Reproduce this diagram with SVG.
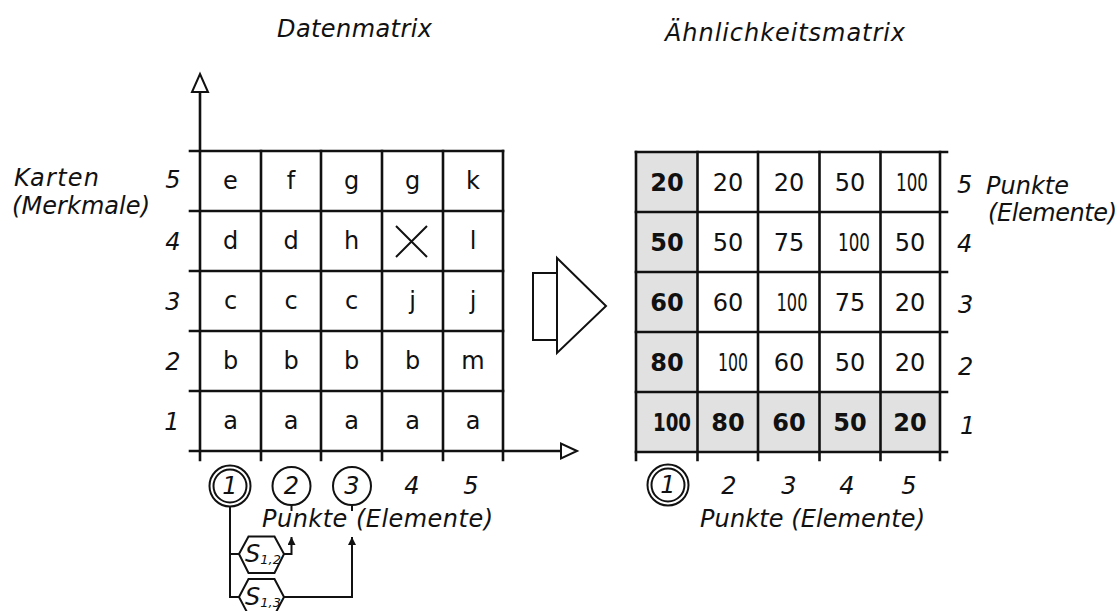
<svg xmlns="http://www.w3.org/2000/svg" width="1120" height="611" viewBox="0 0 1120 611">
  <style>
    .ln { stroke: #111; stroke-width: 2.6; fill: none; stroke-linecap: square; }
    .thin { stroke: #111; stroke-width: 2; fill: none; }
    .open { stroke: #111; stroke-width: 2; fill: #fff; stroke-linejoin: miter; }
    .lbl { font-family: "DejaVu Sans", "Liberation Sans", sans-serif; font-style: italic; font-size: 24px; fill: #111; }
    .cell { font-family: "DejaVu Sans", "Liberation Sans", sans-serif; font-size: 24px; fill: #111; text-anchor: middle; }
    .num { font-family: "DejaVu Sans", "Liberation Sans", sans-serif; font-size: 24px; fill: #111; text-anchor: middle; }
    .bold { font-weight: bold; }
    .mid { text-anchor: middle; }
    .shade { fill: #e1e1e1; }
  </style>
  <defs>
    <marker id="tip" viewBox="0 0 10 10" refX="10" refY="5" markerWidth="8" markerHeight="8" markerUnits="userSpaceOnUse" orient="auto">
      <path d="M0,0 L10,5 L0,10 Z" fill="#111"/>
    </marker>
  </defs>

  <!-- titles -->
  <g id="titles">
    <text class="lbl" x="277" y="37" textLength="155">Datenmatrix</text>
    <text class="lbl" x="665" y="41" textLength="240">Ähnlichkeitsmatrix</text>
  </g>

  <!-- data matrix with axes -->
  <g id="data-matrix">
    <!-- vertical axis with open arrowhead -->
    <line class="ln" x1="200" y1="92" x2="200" y2="460"/>
    <path class="open" d="M200,74 L208,92 L192,92 Z"/>
    <!-- horizontal axis with open arrowhead -->
    <line class="ln" x1="190" y1="451" x2="561" y2="451"/>
    <path class="open" d="M577,451 L561,443.5 L561,458.5 Z"/>
    <!-- grid rows -->
    <line class="ln" x1="190" y1="151" x2="503" y2="151"/>
    <line class="ln" x1="190" y1="211" x2="503" y2="211"/>
    <line class="ln" x1="190" y1="271" x2="503" y2="271"/>
    <line class="ln" x1="190" y1="331" x2="503" y2="331"/>
    <line class="ln" x1="190" y1="391" x2="503" y2="391"/>
    <!-- grid columns -->
    <line class="ln" x1="261" y1="151" x2="261" y2="460"/>
    <line class="ln" x1="321" y1="151" x2="321" y2="460"/>
    <line class="ln" x1="382" y1="151" x2="382" y2="460"/>
    <line class="ln" x1="443" y1="151" x2="443" y2="460"/>
    <line class="ln" x1="503" y1="151" x2="503" y2="460"/>
    <!-- cell entries -->
    <text class="cell" x="230.5" y="189">e</text>
    <text class="cell" x="291" y="189">f</text>
    <text class="cell" x="351.5" y="189">g</text>
    <text class="cell" x="412.5" y="189">g</text>
    <text class="cell" x="473" y="189">k</text>
    <text class="cell" x="230.5" y="249">d</text>
    <text class="cell" x="291" y="249">d</text>
    <text class="cell" x="351.5" y="249">h</text>
    <path class="thin" d="M396,226 L427,257 M427,226 L396,257"/>
    <text class="cell" x="473" y="249">l</text>
    <text class="cell" x="230.5" y="309">c</text>
    <text class="cell" x="291" y="309">c</text>
    <text class="cell" x="351.5" y="309">c</text>
    <text class="cell" x="412.5" y="309">j</text>
    <text class="cell" x="473" y="309">j</text>
    <text class="cell" x="230.5" y="369">b</text>
    <text class="cell" x="291" y="369">b</text>
    <text class="cell" x="351.5" y="369">b</text>
    <text class="cell" x="412.5" y="369">b</text>
    <text class="cell" x="473" y="369">m</text>
    <text class="cell" x="230.5" y="429">a</text>
    <text class="cell" x="291" y="429">a</text>
    <text class="cell" x="351.5" y="429">a</text>
    <text class="cell" x="412.5" y="429">a</text>
    <text class="cell" x="473" y="429">a</text>
  </g>

  <!-- row labels of the data matrix -->
  <g id="data-rows">
    <text class="lbl" x="14" y="186" font-size="23" textLength="85">Karten</text>
    <text class="lbl" x="12" y="214" font-size="23" textLength="138">(Merkmale)</text>
    <text class="lbl mid" x="173" y="188">5</text>
    <text class="lbl mid" x="173" y="250">4</text>
    <text class="lbl mid" x="173" y="310">3</text>
    <text class="lbl mid" x="173" y="370">2</text>
    <text class="lbl mid" x="172" y="430">1</text>
  </g>

  <!-- column labels of the data matrix -->
  <g id="data-cols">
    <circle class="thin" cx="230" cy="486" r="20.5"/>
    <circle class="thin" cx="230" cy="486" r="16.5"/>
    <text class="lbl mid" x="230" y="494">1</text>
    <circle class="thin" cx="291.5" cy="486" r="19"/>
    <text class="lbl mid" x="291.5" y="494">2</text>
    <circle class="thin" cx="352" cy="486" r="19"/>
    <text class="lbl mid" x="352" y="494">3</text>
    <text class="lbl mid" x="412" y="494">4</text>
    <text class="lbl mid" x="471" y="494">5</text>
    <text class="lbl" x="262" y="527" textLength="231">Punkte (Elemente)</text>
  </g>

  <!-- similarity coefficients -->
  <g id="s12">
    <path class="thin" d="M239,554 L248.5,536.5 L274.5,536.5 L284,554 L274.5,573 L248.5,573 Z"/>
    <text class="lbl" x="245" y="562" font-size="21">S<tspan font-size="13" dy="2">1,2</tspan></text>
  </g>
  <g id="s13">
    <path class="thin" d="M239,597 L248.5,579 L274.5,579 L284,597 L274.5,615 L248.5,615 Z"/>
    <text class="lbl" x="245" y="605" font-size="21">S<tspan font-size="13" dy="2">1,3</tspan></text>
  </g>

  <!-- connectors -->
  <g id="connectors">
    <line class="thin" x1="291.5" y1="505" x2="291.5" y2="511"/>
    <line class="thin" x1="352" y1="505" x2="352" y2="511"/>
    <path class="thin" d="M230,506.5 L230,597 L239,597"/>
    <path class="thin" d="M230,554 L239,554"/>
    <path class="thin" d="M284,554 L291.5,554 L291.5,537" marker-end="url(#tip)"/>
    <path class="thin" d="M284,597 L352,597 L352,537" marker-end="url(#tip)"/>
  </g>

  <!-- transformation arrow -->
  <g id="transform-arrow">
    <rect class="open" x="533" y="273" width="24" height="67"/>
    <path class="open" d="M557,258 L606,306 L557,353 Z"/>
  </g>

  <!-- similarity matrix -->
  <g id="similarity-matrix">
    <rect class="shade" x="636" y="152" width="61.5" height="300"/>
    <rect class="shade" x="636" y="392" width="304" height="60"/>
    <line class="ln" x1="636" y1="152" x2="947" y2="152"/>
    <line class="ln" x1="636" y1="212" x2="947" y2="212"/>
    <line class="ln" x1="636" y1="272" x2="947" y2="272"/>
    <line class="ln" x1="636" y1="332" x2="947" y2="332"/>
    <line class="ln" x1="636" y1="392" x2="947" y2="392"/>
    <line class="ln" x1="636" y1="452" x2="947" y2="452"/>
    <line class="ln" x1="636" y1="152" x2="636" y2="460"/>
    <line class="ln" x1="697.5" y1="152" x2="697.5" y2="460"/>
    <line class="ln" x1="758" y1="152" x2="758" y2="460"/>
    <line class="ln" x1="819.5" y1="152" x2="819.5" y2="460"/>
    <line class="ln" x1="880.5" y1="152" x2="880.5" y2="460"/>
    <line class="ln" x1="940" y1="152" x2="940" y2="460"/>
    <!-- row 5 -->
    <text class="num bold" x="667" y="191">20</text>
    <text class="num" x="728" y="191">20</text>
    <text class="num" x="789" y="191">20</text>
    <text class="num" x="850" y="191">50</text>
    <text class="num" x="912" y="191" textLength="32" lengthAdjust="spacingAndGlyphs">100</text>
    <!-- row 4 -->
    <text class="num bold" x="667" y="251">50</text>
    <text class="num" x="728" y="251">50</text>
    <text class="num" x="789" y="251">75</text>
    <text class="num" x="854" y="251" textLength="32" lengthAdjust="spacingAndGlyphs">100</text>
    <text class="num" x="910" y="251">50</text>
    <!-- row 3 -->
    <text class="num bold" x="667" y="311">60</text>
    <text class="num" x="728" y="311">60</text>
    <text class="num" x="792" y="311" textLength="31" lengthAdjust="spacingAndGlyphs">100</text>
    <text class="num" x="850" y="311">75</text>
    <text class="num" x="910" y="311">20</text>
    <!-- row 2 -->
    <text class="num bold" x="667" y="371">80</text>
    <text class="num" x="733" y="371" textLength="30" lengthAdjust="spacingAndGlyphs">100</text>
    <text class="num" x="789" y="371">60</text>
    <text class="num" x="850" y="371">50</text>
    <text class="num" x="910" y="371">20</text>
    <!-- row 1 -->
    <text class="num bold" x="672" y="431" textLength="38" lengthAdjust="spacingAndGlyphs">100</text>
    <text class="num bold" x="728" y="431">80</text>
    <text class="num bold" x="789" y="431">60</text>
    <text class="num bold" x="850" y="431">50</text>
    <text class="num bold" x="910" y="431">20</text>
  </g>

  <!-- row labels of the similarity matrix -->
  <g id="sim-rows">
    <text class="lbl" x="957" y="193">5</text>
    <text class="lbl" x="986" y="194">Punkte</text>
    <text class="lbl" x="988" y="221" textLength="129">(Elemente)</text>
    <text class="lbl" x="957" y="252">4</text>
    <text class="lbl" x="958" y="313">3</text>
    <text class="lbl" x="958" y="375">2</text>
    <text class="lbl" x="960" y="434">1</text>
  </g>

  <!-- column labels of the similarity matrix -->
  <g id="sim-cols">
    <circle class="thin" cx="668" cy="485" r="20.5"/>
    <circle class="thin" cx="668" cy="485" r="16.5"/>
    <text class="lbl mid" x="668" y="493">1</text>
    <text class="lbl mid" x="729" y="494">2</text>
    <text class="lbl mid" x="789" y="494">3</text>
    <text class="lbl mid" x="847" y="494">4</text>
    <text class="lbl mid" x="909" y="494">5</text>
    <text class="lbl" x="700" y="527" textLength="225">Punkte (Elemente)</text>
  </g>
</svg>
